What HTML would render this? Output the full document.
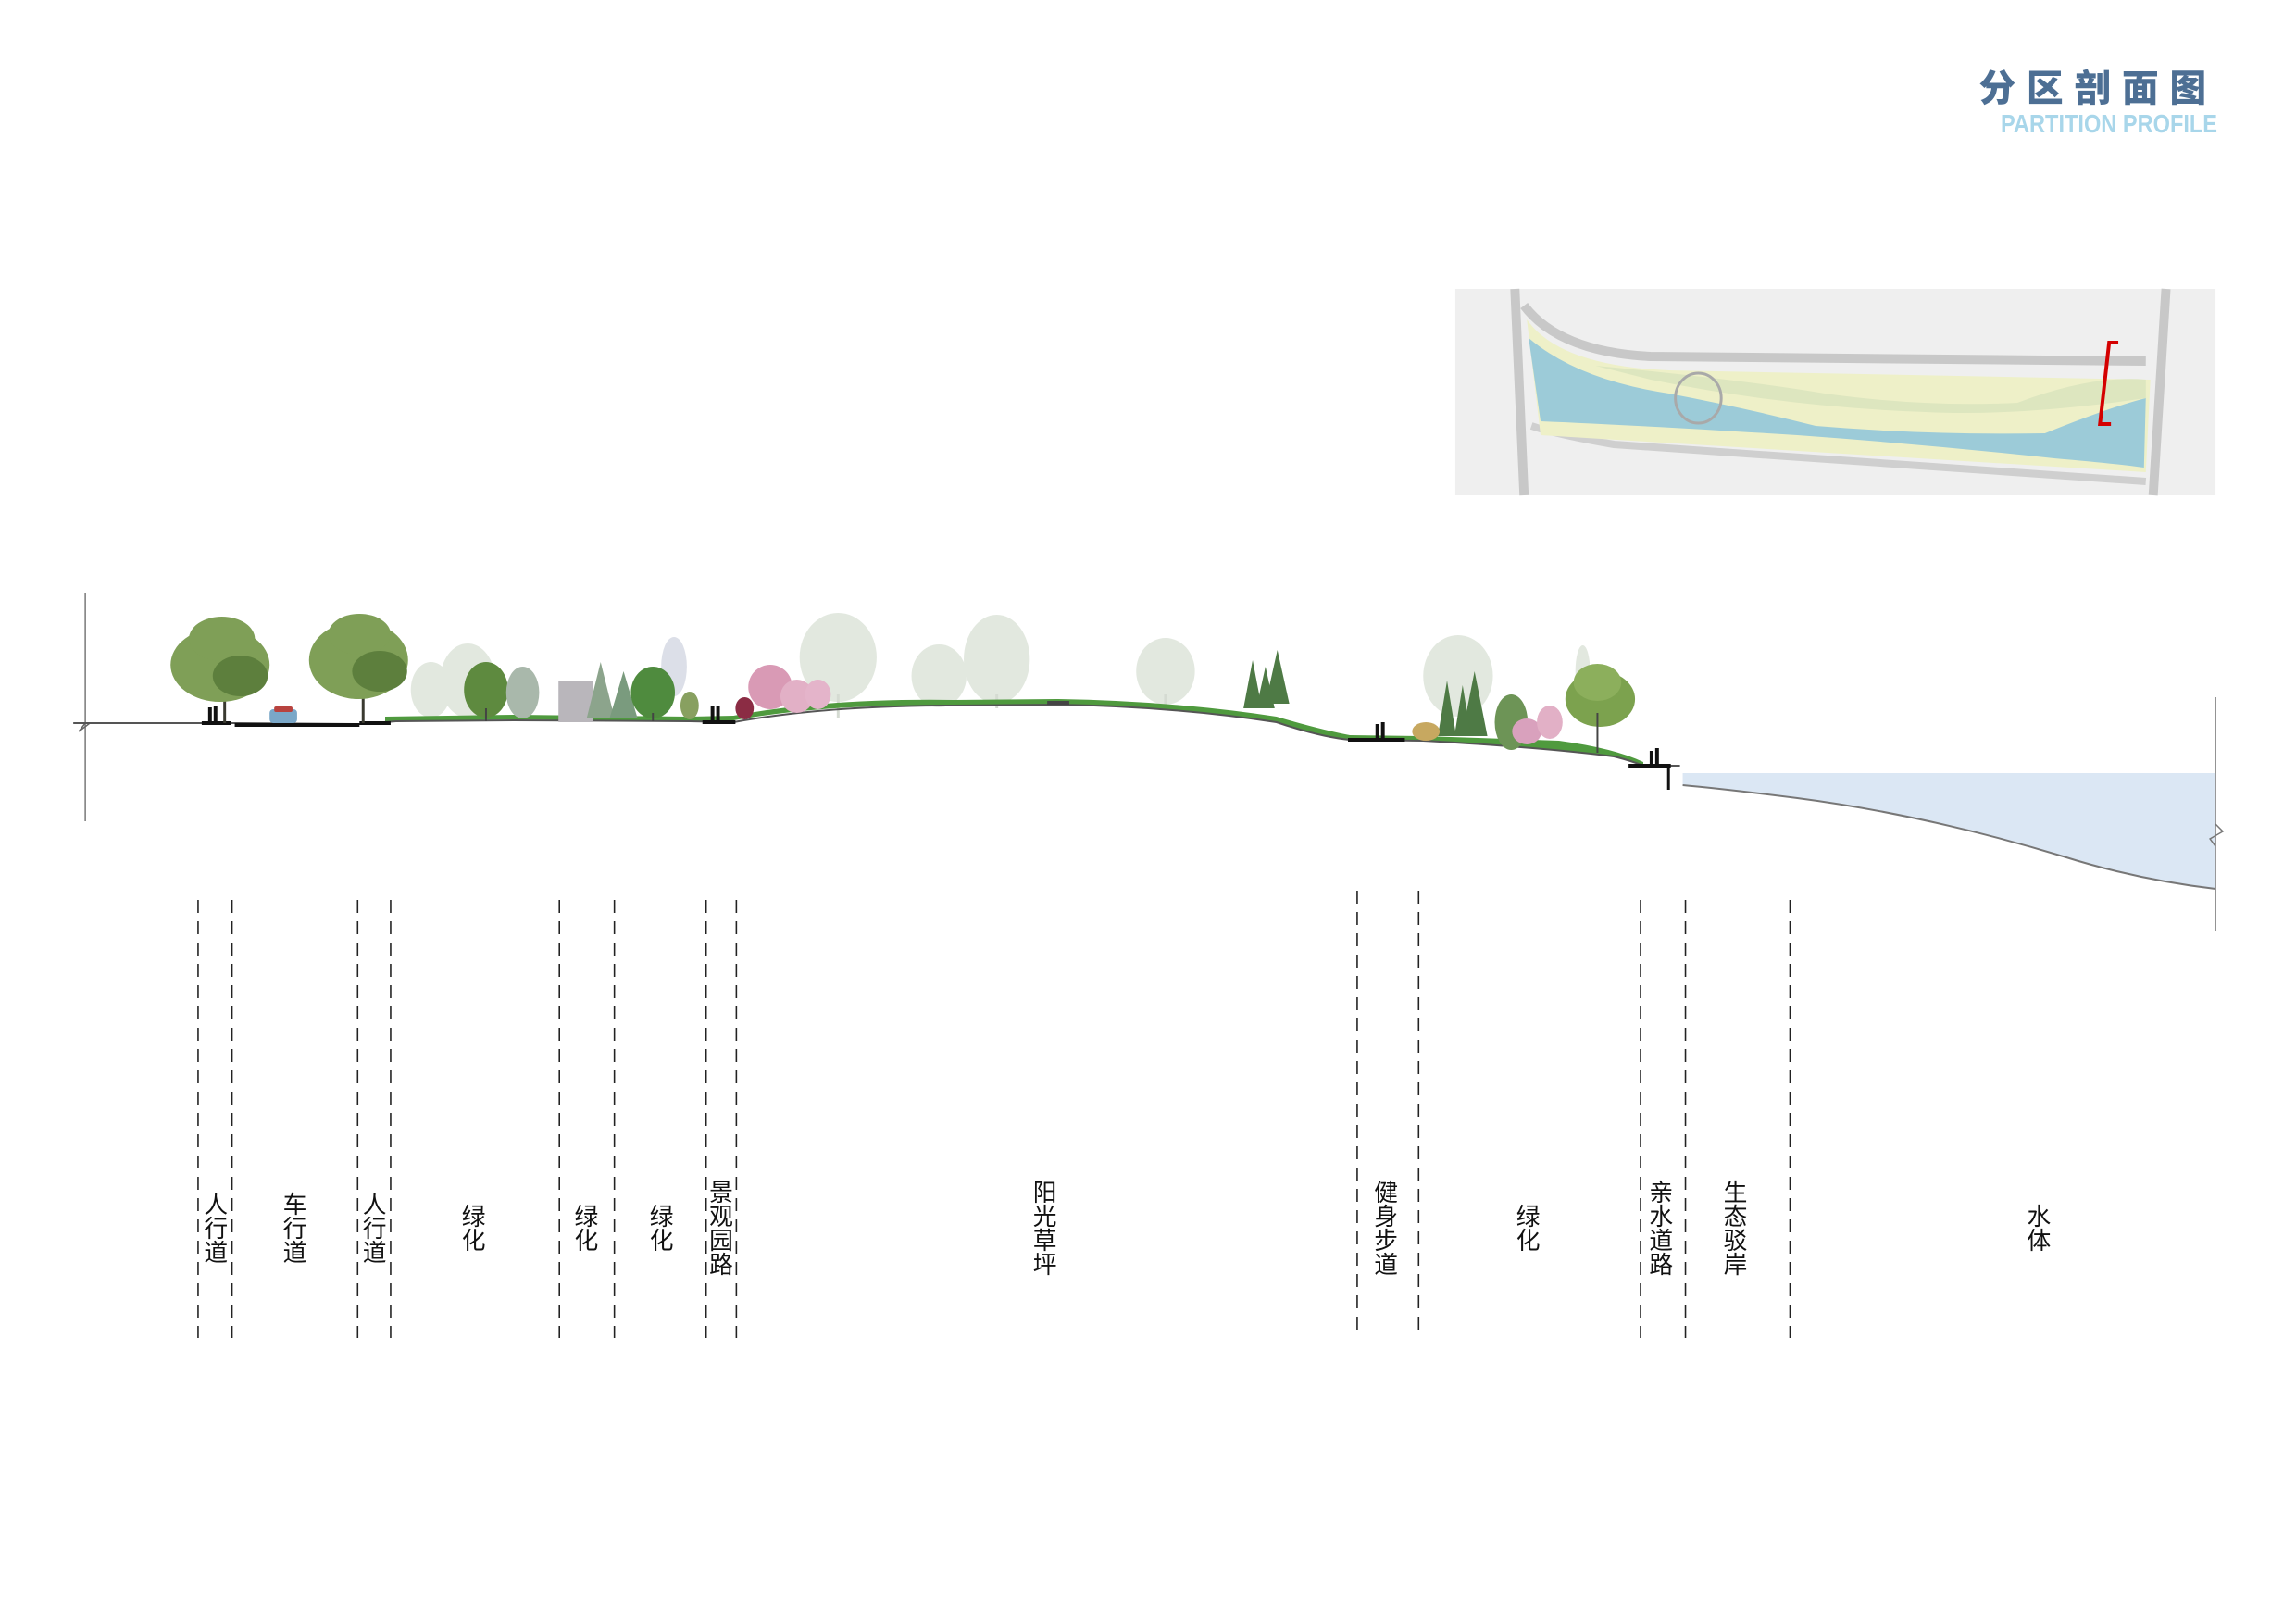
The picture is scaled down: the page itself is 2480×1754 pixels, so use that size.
<!DOCTYPE html>
<html><head><meta charset="utf-8">
<style>
html,body{margin:0;padding:0;background:#fff;}
body{width:2480px;height:1754px;position:relative;overflow:hidden;font-family:"Liberation Sans","Noto Sans CJK SC",sans-serif;}
#w{position:absolute;left:0;top:0;width:2480px;height:1754px;transform:scaleX(0.9905);transform-origin:0 0;}
.t1{position:absolute;left:2140px;top:68px;width:278px;text-align:right;font-family:"Noto Sans CJK SC",sans-serif;font-weight:900;font-size:40px;color:#4d6f94;letter-spacing:12px;margin-right:-12px;line-height:48px;}
.t2{position:absolute;left:2100px;top:118px;width:318px;text-align:right;font-family:"Liberation Sans Narrow","Liberation Sans",sans-serif;font-weight:bold;font-size:28px;color:#a8d6ea;line-height:32px;transform:scaleX(0.85);transform-origin:right;}
.lb{position:absolute;writing-mode:vertical-rl;font-family:"Noto Sans CJK SC",sans-serif;font-size:26px;line-height:28px;color:#111;transform:translate(-50%,-50%);top:1326px;}
</style></head><body><div id="w">
<div class="t1">分区剖面图</div>
<div class="t2">PARTITION PROFILE</div>

<svg width="2480" height="1754" style="position:absolute;left:0;top:0">
<!-- map -->
<rect x="1587" y="312" width="829" height="223" fill="#efefef"/>
<path d="M1652 312 L1662 535" stroke="#c8c8c8" stroke-width="10"/>
<path d="M2362 312 L2348 535" stroke="#c8c8c8" stroke-width="10"/>
<path d="M1662 330 Q1700 380 1800 385 L2340 390" stroke="#c8c8c8" stroke-width="10" fill="none"/>
<path d="M1670 460 Q1700 470 1760 480 L2340 520" stroke="#cfcfcf" stroke-width="8" fill="none"/>
<path d="M1665 345 Q1700 395 1820 400 L2345 410 L2340 510 L1680 470 Z" fill="#eef0c8"/>
<path d="M1667 365 Q1720 410 1820 425 Q1900 440 1980 460 Q2100 470 2230 468 Q2300 440 2340 430 L2338 505 Q2300 500 2240 495 Q2100 480 1960 470 Q1800 460 1680 455 Z" fill="#9ccbd8"/>
<path d="M1740 395 Q1900 410 1990 425 Q2100 440 2200 435 Q2280 405 2340 410 L2340 430 Q2200 450 2100 445 Q1950 440 1800 410 Z" fill="#dde6bf"/>
<ellipse cx="1852" cy="430" rx="25" ry="27" fill="none" stroke="#a9a9a9" stroke-width="3"/>
<path d="M2310 370 L2300 370 L2290 458 L2302 458" stroke="#d40000" stroke-width="4" fill="none"/>

<!-- section frame -->
<line x1="93" y1="640" x2="93" y2="887" stroke="#777" stroke-width="1.5"/>
<path d="M80 781 L93 781 L86 790 L98 781 L110 781" stroke="#666" fill="none" stroke-width="1.5"/>
<line x1="2416" y1="753" x2="2416" y2="1005" stroke="#777" stroke-width="1.5"/>

<!-- water -->
<path d="M1835 835 L2416 835 L2416 960 Q2330 950 2250 925 Q2100 880 1960 862 Q1880 852 1835 848 Z" fill="#dbe7f4"/>
<path d="M1835 848 Q1880 852 1960 862 Q2100 880 2250 925 Q2330 950 2416 960" stroke="#777" fill="none" stroke-width="2"/>
<path d="M2416 890 L2424 898 L2410 906 L2416 914" stroke="#777" fill="none" stroke-width="1.5"/>

<!-- faded background trees -->
<g fill="#dfe6dc" opacity="0.9">
<ellipse cx="914" cy="710" rx="42" ry="48"/><ellipse cx="1024" cy="730" rx="30" ry="34"/>
<ellipse cx="1087" cy="712" rx="36" ry="48"/><ellipse cx="1271" cy="725" rx="32" ry="36"/>
<ellipse cx="1590" cy="730" rx="38" ry="44"/><ellipse cx="510" cy="735" rx="30" ry="40"/>
<ellipse cx="470" cy="745" rx="22" ry="30"/><ellipse cx="735" cy="720" rx="14" ry="32" fill="#d8dce6"/>
<ellipse cx="1726" cy="725" rx="8" ry="28"/>
</g>
<g stroke="#d5dbd2" stroke-width="3"><line x1="914" y1="750" x2="914" y2="775"/><line x1="1087" y1="750" x2="1087" y2="765"/><line x1="1271" y1="750" x2="1271" y2="765"/></g>

<!-- ground fill green strip -->
<path d="M420 779 L560 777 L752 779 L800 778 Q900 760 1040 762 L1152 761 Q1280 763 1392 780 Q1440 795 1472 799 L1552 800 Q1680 807 1760 817 Q1780 822 1792 827 L1792 823 Q1760 808 1700 800 L1552 795 L1472 794 Q1440 788 1392 774 Q1280 757 1152 755 L1040 756 Q900 754 800 773 L752 774 L560 772 L420 774 Z" fill="#4f9a3e"/>

<!-- ground line -->
<path d="M80 781 L256 781 L392 782 L432 779 L560 778 L752 779 L800 780 Q900 762 1040 762 L1152 761 Q1280 763 1392 780 Q1440 796 1472 799 L1552 800 Q1680 807 1760 817 Q1780 822 1792 827 L1832 827" stroke="#555" stroke-width="2" fill="none"/>
<g fill="#111">
<rect x="220" y="779" width="32" height="4"/><rect x="256" y="781" width="136" height="4"/><rect x="392" y="779" width="34" height="4"/>
<rect x="766" y="778" width="36" height="4"/><rect x="1470" y="797" width="62" height="4"/><rect x="1776" y="825" width="46" height="4"/>
<rect x="1818" y="827" width="3" height="26"/>
</g>

<!-- street trees -->
<g>
<line x1="245" y1="740" x2="245" y2="781" stroke="#3a3a30" stroke-width="3"/>
<line x1="396" y1="740" x2="396" y2="781" stroke="#3a3a30" stroke-width="3"/>
<g fill="#7f9f57"><ellipse cx="240" cy="718" rx="54" ry="40"/><ellipse cx="242" cy="690" rx="36" ry="24"/><ellipse cx="391" cy="713" rx="54" ry="42"/><ellipse cx="392" cy="685" rx="34" ry="22"/></g>
<g fill="#5d7f3d"><ellipse cx="262" cy="730" rx="30" ry="22"/><ellipse cx="414" cy="725" rx="30" ry="22"/></g>
</g>
<!-- car -->
<rect x="294" y="766" width="30" height="15" rx="4" fill="#7aa7c8"/><rect x="299" y="763" width="20" height="6" rx="2" fill="#b8433f"/>

<!-- greenery left cluster -->
<g>
<rect x="609" y="735" width="38" height="45" fill="#b9b6bb"/>
<ellipse cx="530" cy="745" rx="24" ry="30" fill="#5e8a3f"/><line x1="530" y1="765" x2="530" y2="779" stroke="#444" stroke-width="2"/>
<ellipse cx="570" cy="748" rx="18" ry="28" fill="#a9b8ab"/>
<polygon points="655,715 640,775 670,775" fill="#8ca48c"/>
<polygon points="680,725 665,775 695,775" fill="#7a9b7e"/>
<ellipse cx="712" cy="748" rx="24" ry="28" fill="#4f8b3e"/><line x1="712" y1="770" x2="712" y2="779" stroke="#444" stroke-width="2"/>
<ellipse cx="752" cy="762" rx="10" ry="15" fill="#88a060"/>
</g>
<!-- pink trees -->
<g>
<ellipse cx="812" cy="765" rx="10" ry="12" fill="#8b2c44"/>
<ellipse cx="840" cy="742" rx="24" ry="24" fill="#d99ab5"/>
<ellipse cx="869" cy="752" rx="18" ry="18" fill="#e2b0c6"/>
<ellipse cx="892" cy="750" rx="14" ry="16" fill="#e4b4ca"/>
</g>
<!-- bench -->
<rect x="1142" y="757" width="24" height="4" fill="#444"/>
<!-- conifers -->
<g fill="#4e7a45">
<polygon points="1366,713 1356,765 1376,765"/><polygon points="1380,720 1370,765 1390,765"/><polygon points="1393,702 1380,760 1406,760"/>
<polygon points="1578,735 1568,795 1588,795"/><polygon points="1608,725 1594,795 1622,795"/><polygon points="1595,740 1586,795 1604,795"/>
</g>
<g>
<ellipse cx="1648" cy="780" rx="18" ry="30" fill="#6d9456"/>
<ellipse cx="1665" cy="790" rx="16" ry="14" fill="#d9a1bd"/>
<ellipse cx="1690" cy="780" rx="14" ry="18" fill="#e2b0c6"/>
<ellipse cx="1745" cy="755" rx="38" ry="30" fill="#7ca24e"/>
<ellipse cx="1742" cy="737" rx="26" ry="20" fill="#8caf5c"/>
<line x1="1742" y1="770" x2="1742" y2="813" stroke="#444" stroke-width="2"/>
<ellipse cx="1555" cy="790" rx="15" ry="10" fill="#c7a860"/>
</g>
<!-- people -->
<g fill="#111">
<rect x="227" y="764" width="4" height="17"/><rect x="233" y="762" width="4" height="19"/>
<rect x="775" y="763" width="4" height="16"/><rect x="781" y="762" width="4" height="17"/>
<rect x="1500" y="782" width="4" height="16"/><rect x="1506" y="780" width="4" height="18"/>
<rect x="1799" y="811" width="4" height="16"/><rect x="1805" y="808" width="4" height="19"/>
</g>

<!-- dashed lines -->
<g stroke="#222" stroke-width="1.6" stroke-dasharray="14 9">
<line x1="216" y1="972" x2="216" y2="1445"/><line x1="253" y1="972" x2="253" y2="1445"/>
<line x1="390" y1="972" x2="390" y2="1445"/><line x1="426" y1="972" x2="426" y2="1445"/>
<line x1="610" y1="972" x2="610" y2="1445"/><line x1="670" y1="972" x2="670" y2="1445"/>
<line x1="770" y1="972" x2="770" y2="1445"/><line x1="803" y1="972" x2="803" y2="1445"/>
<line x1="1480" y1="962" x2="1480" y2="1445"/><line x1="1547" y1="962" x2="1547" y2="1445"/>
<line x1="1789" y1="972" x2="1789" y2="1445"/><line x1="1838" y1="972" x2="1838" y2="1445"/>
<line x1="1952" y1="972" x2="1952" y2="1445"/>
</g>
</svg>

<div class="lb" style="left:235px">人行道</div>
<div class="lb" style="left:321px">车行道</div>
<div class="lb" style="left:408px">人行道</div>
<div class="lb" style="left:516px">绿化</div>
<div class="lb" style="left:639px">绿化</div>
<div class="lb" style="left:721px">绿化</div>
<div class="lb" style="left:786px">景观园路</div>
<div class="lb" style="left:1139px">阳光草坪</div>
<div class="lb" style="left:1511px">健身步道</div>
<div class="lb" style="left:1666px">绿化</div>
<div class="lb" style="left:1811px">亲水道路</div>
<div class="lb" style="left:1892px">生态驳岸</div>
<div class="lb" style="left:2223px">水体</div>
</div></body></html>
